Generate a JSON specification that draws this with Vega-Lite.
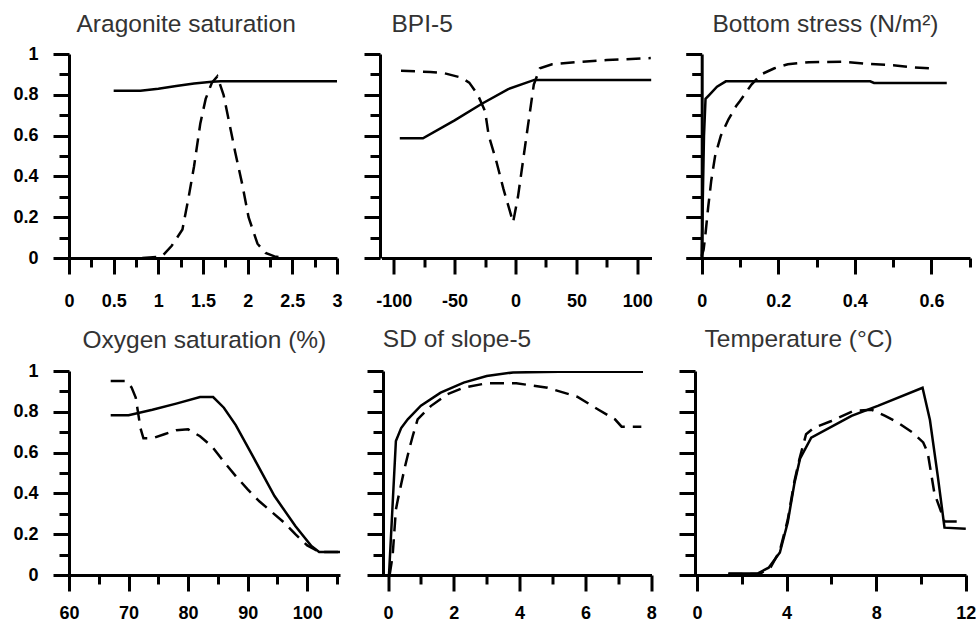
{
  "$schema": "https://vega.github.io/schema/vega-lite/v6.json",
  "padding": {"left": 12, "top": 11, "right": 0, "bottom": 0},
  "background": "white",
  "columns": 3,
  "bounds": "flush",
  "align": "all",
  "spacing": {"row": 113, "column": 36.5},
  "data": {"values": [
    {"panel":"arag","series":"solid","x":0.5,"y":0.82},{"panel":"arag","series":"solid","x":0.8,"y":0.82},{"panel":"arag","series":"solid","x":1.0,"y":0.83},{"panel":"arag","series":"solid","x":1.2,"y":0.843},{"panel":"arag","series":"solid","x":1.4,"y":0.855},{"panel":"arag","series":"solid","x":1.6,"y":0.864},{"panel":"arag","series":"solid","x":1.7,"y":0.866},{"panel":"arag","series":"solid","x":3.0,"y":0.866},
    {"panel":"arag","series":"dashed","x":0.82,"y":0},{"panel":"arag","series":"dashed","x":1.0,"y":0.005},{"panel":"arag","series":"dashed","x":1.05,"y":0.012},{"panel":"arag","series":"dashed","x":1.15,"y":0.06},{"panel":"arag","series":"dashed","x":1.27,"y":0.14},{"panel":"arag","series":"dashed","x":1.34,"y":0.3},{"panel":"arag","series":"dashed","x":1.4,"y":0.45},{"panel":"arag","series":"dashed","x":1.47,"y":0.66},{"panel":"arag","series":"dashed","x":1.53,"y":0.78},{"panel":"arag","series":"dashed","x":1.6,"y":0.86},{"panel":"arag","series":"dashed","x":1.66,"y":0.89},{"panel":"arag","series":"dashed","x":1.73,"y":0.8},{"panel":"arag","series":"dashed","x":1.8,"y":0.65},{"panel":"arag","series":"dashed","x":1.86,"y":0.52},{"panel":"arag","series":"dashed","x":1.94,"y":0.36},{"panel":"arag","series":"dashed","x":2.01,"y":0.2},{"panel":"arag","series":"dashed","x":2.11,"y":0.07},{"panel":"arag","series":"dashed","x":2.2,"y":0.025},{"panel":"arag","series":"dashed","x":2.3,"y":0.008},{"panel":"arag","series":"dashed","x":2.42,"y":0},
    {"panel":"bpi","series":"solid","x":-95,"y":0.587},{"panel":"bpi","series":"solid","x":-76,"y":0.587},{"panel":"bpi","series":"solid","x":-50,"y":0.675},{"panel":"bpi","series":"solid","x":-28,"y":0.755},{"panel":"bpi","series":"solid","x":-6,"y":0.828},{"panel":"bpi","series":"solid","x":15.4,"y":0.873},{"panel":"bpi","series":"solid","x":111.5,"y":0.873},
    {"panel":"bpi","series":"dashed","x":-94,"y":0.918},{"panel":"bpi","series":"dashed","x":-70,"y":0.912},{"panel":"bpi","series":"dashed","x":-58,"y":0.905},{"panel":"bpi","series":"dashed","x":-45,"y":0.885},{"panel":"bpi","series":"dashed","x":-38,"y":0.86},{"panel":"bpi","series":"dashed","x":-31,"y":0.8},{"panel":"bpi","series":"dashed","x":-25,"y":0.72},{"panel":"bpi","series":"dashed","x":-22,"y":0.6},{"panel":"bpi","series":"dashed","x":-16,"y":0.48},{"panel":"bpi","series":"dashed","x":-10,"y":0.34},{"panel":"bpi","series":"dashed","x":-2,"y":0.175},{"panel":"bpi","series":"dashed","x":2,"y":0.3},{"panel":"bpi","series":"dashed","x":6,"y":0.47},{"panel":"bpi","series":"dashed","x":10,"y":0.64},{"panel":"bpi","series":"dashed","x":15,"y":0.85},{"panel":"bpi","series":"dashed","x":20,"y":0.93},{"panel":"bpi","series":"dashed","x":30,"y":0.95},{"panel":"bpi","series":"dashed","x":50,"y":0.96},{"panel":"bpi","series":"dashed","x":75,"y":0.97},{"panel":"bpi","series":"dashed","x":111,"y":0.98},
    {"panel":"stress","series":"solid","x":0,"y":0},{"panel":"stress","series":"solid","x":0.003,"y":0.3},{"panel":"stress","series":"solid","x":0.006,"y":0.6},{"panel":"stress","series":"solid","x":0.01,"y":0.78},{"panel":"stress","series":"solid","x":0.02,"y":0.8},{"panel":"stress","series":"solid","x":0.04,"y":0.84},{"panel":"stress","series":"solid","x":0.063,"y":0.866},{"panel":"stress","series":"solid","x":0.44,"y":0.866},{"panel":"stress","series":"solid","x":0.45,"y":0.858},{"panel":"stress","series":"solid","x":0.64,"y":0.858},
    {"panel":"stress","series":"dashed","x":0,"y":0.01},{"panel":"stress","series":"dashed","x":0.005,"y":0.04},{"panel":"stress","series":"dashed","x":0.01,"y":0.12},{"panel":"stress","series":"dashed","x":0.017,"y":0.25},{"panel":"stress","series":"dashed","x":0.025,"y":0.38},{"panel":"stress","series":"dashed","x":0.035,"y":0.5},{"panel":"stress","series":"dashed","x":0.05,"y":0.6},{"panel":"stress","series":"dashed","x":0.07,"y":0.68},{"panel":"stress","series":"dashed","x":0.09,"y":0.745},{"panel":"stress","series":"dashed","x":0.1,"y":0.77},{"panel":"stress","series":"dashed","x":0.13,"y":0.85},{"panel":"stress","series":"dashed","x":0.155,"y":0.9},{"panel":"stress","series":"dashed","x":0.19,"y":0.93},{"panel":"stress","series":"dashed","x":0.225,"y":0.95},{"panel":"stress","series":"dashed","x":0.28,"y":0.96},{"panel":"stress","series":"dashed","x":0.37,"y":0.962},{"panel":"stress","series":"dashed","x":0.43,"y":0.952},{"panel":"stress","series":"dashed","x":0.5,"y":0.945},{"panel":"stress","series":"dashed","x":0.55,"y":0.935},{"panel":"stress","series":"dashed","x":0.61,"y":0.928},
    {"panel":"oxy","series":"solid","x":67,"y":0.783},{"panel":"oxy","series":"solid","x":70,"y":0.783},{"panel":"oxy","series":"solid","x":74,"y":0.81},{"panel":"oxy","series":"solid","x":78,"y":0.84},{"panel":"oxy","series":"solid","x":82,"y":0.872},{"panel":"oxy","series":"solid","x":84.2,"y":0.872},{"panel":"oxy","series":"solid","x":86,"y":0.82},{"panel":"oxy","series":"solid","x":88,"y":0.735},{"panel":"oxy","series":"solid","x":91,"y":0.575},{"panel":"oxy","series":"solid","x":94.5,"y":0.387},{"panel":"oxy","series":"solid","x":98,"y":0.24},{"panel":"oxy","series":"solid","x":100.7,"y":0.142},{"panel":"oxy","series":"solid","x":102,"y":0.113},{"panel":"oxy","series":"solid","x":105.5,"y":0.113},
    {"panel":"oxy","series":"dashed","x":67,"y":0.951},{"panel":"oxy","series":"dashed","x":69.5,"y":0.951},{"panel":"oxy","series":"dashed","x":70.5,"y":0.92},{"panel":"oxy","series":"dashed","x":71.2,"y":0.87},{"panel":"oxy","series":"dashed","x":72,"y":0.72},{"panel":"oxy","series":"dashed","x":72.5,"y":0.67},{"panel":"oxy","series":"dashed","x":74,"y":0.67},{"panel":"oxy","series":"dashed","x":76,"y":0.69},{"panel":"oxy","series":"dashed","x":78,"y":0.71},{"panel":"oxy","series":"dashed","x":80,"y":0.714},{"panel":"oxy","series":"dashed","x":82,"y":0.68},{"panel":"oxy","series":"dashed","x":84,"y":0.63},{"panel":"oxy","series":"dashed","x":86,"y":0.555},{"panel":"oxy","series":"dashed","x":88,"y":0.485},{"panel":"oxy","series":"dashed","x":90,"y":0.42},{"panel":"oxy","series":"dashed","x":92,"y":0.36},{"panel":"oxy","series":"dashed","x":94,"y":0.31},{"panel":"oxy","series":"dashed","x":96,"y":0.26},{"panel":"oxy","series":"dashed","x":98,"y":0.2},{"panel":"oxy","series":"dashed","x":100,"y":0.145},{"panel":"oxy","series":"dashed","x":102,"y":0.113},{"panel":"oxy","series":"dashed","x":105.5,"y":0.113},
    {"panel":"sd","series":"solid","x":0.03,"y":0},{"panel":"sd","series":"solid","x":0.24,"y":0.657},{"panel":"sd","series":"solid","x":0.4,"y":0.72},{"panel":"sd","series":"solid","x":0.6,"y":0.763},{"panel":"sd","series":"solid","x":1.0,"y":0.83},{"panel":"sd","series":"solid","x":1.6,"y":0.894},{"panel":"sd","series":"solid","x":2.3,"y":0.943},{"panel":"sd","series":"solid","x":3.0,"y":0.975},{"panel":"sd","series":"solid","x":3.8,"y":0.993},{"panel":"sd","series":"solid","x":5.2,"y":0.996},{"panel":"sd","series":"solid","x":7.75,"y":0.996},
    {"panel":"sd","series":"dashed","x":0.05,"y":0},{"panel":"sd","series":"dashed","x":0.14,"y":0.093},{"panel":"sd","series":"dashed","x":0.24,"y":0.32},{"panel":"sd","series":"dashed","x":0.3,"y":0.37},{"panel":"sd","series":"dashed","x":0.5,"y":0.52},{"panel":"sd","series":"dashed","x":0.65,"y":0.62},{"panel":"sd","series":"dashed","x":0.75,"y":0.68},{"panel":"sd","series":"dashed","x":0.9,"y":0.763},{"panel":"sd","series":"dashed","x":1.3,"y":0.828},{"panel":"sd","series":"dashed","x":1.8,"y":0.886},{"panel":"sd","series":"dashed","x":2.3,"y":0.918},{"panel":"sd","series":"dashed","x":3.0,"y":0.94},{"panel":"sd","series":"dashed","x":3.9,"y":0.94},{"panel":"sd","series":"dashed","x":4.85,"y":0.918},{"panel":"sd","series":"dashed","x":5.75,"y":0.874},{"panel":"sd","series":"dashed","x":6.4,"y":0.81},{"panel":"sd","series":"dashed","x":6.9,"y":0.763},{"panel":"sd","series":"dashed","x":7.1,"y":0.727},{"panel":"sd","series":"dashed","x":7.7,"y":0.727},
    {"panel":"temp","series":"solid","x":1.4,"y":0.007},{"panel":"temp","series":"solid","x":2.7,"y":0.007},{"panel":"temp","series":"solid","x":3.2,"y":0.036},{"panel":"temp","series":"solid","x":3.7,"y":0.11},{"panel":"temp","series":"solid","x":4.05,"y":0.257},{"panel":"temp","series":"solid","x":4.35,"y":0.45},{"panel":"temp","series":"solid","x":4.6,"y":0.57},{"panel":"temp","series":"solid","x":5.1,"y":0.673},{"panel":"temp","series":"solid","x":6.9,"y":0.78},{"panel":"temp","series":"solid","x":8.1,"y":0.83},{"panel":"temp","series":"solid","x":10.07,"y":0.918},{"panel":"temp","series":"solid","x":10.4,"y":0.76},{"panel":"temp","series":"solid","x":10.75,"y":0.485},{"panel":"temp","series":"solid","x":11.05,"y":0.232},{"panel":"temp","series":"solid","x":12,"y":0.227},
    {"panel":"temp","series":"dashed","x":1.4,"y":0.005},{"panel":"temp","series":"dashed","x":2.8,"y":0.005},{"panel":"temp","series":"dashed","x":3.3,"y":0.04},{"panel":"temp","series":"dashed","x":3.7,"y":0.12},{"panel":"temp","series":"dashed","x":4.05,"y":0.27},{"panel":"temp","series":"dashed","x":4.35,"y":0.46},{"panel":"temp","series":"dashed","x":4.6,"y":0.58},{"panel":"temp","series":"dashed","x":4.87,"y":0.69},{"panel":"temp","series":"dashed","x":5.2,"y":0.72},{"panel":"temp","series":"dashed","x":6.0,"y":0.755},{"panel":"temp","series":"dashed","x":7.0,"y":0.805},{"panel":"temp","series":"dashed","x":7.8,"y":0.81},{"panel":"temp","series":"dashed","x":8.4,"y":0.78},{"panel":"temp","series":"dashed","x":9.0,"y":0.745},{"panel":"temp","series":"dashed","x":9.6,"y":0.7},{"panel":"temp","series":"dashed","x":10.1,"y":0.65},{"panel":"temp","series":"dashed","x":10.3,"y":0.6},{"panel":"temp","series":"dashed","x":10.6,"y":0.4},{"panel":"temp","series":"dashed","x":10.9,"y":0.31},{"panel":"temp","series":"dashed","x":11.05,"y":0.262},{"panel":"temp","series":"dashed","x":11.8,"y":0.262}
  ]},
  "concat": [
    {
      "width": 268, "height": 204,
      "title": {"text": "Aragonite saturation", "dx": 7.5, "offset": 8},
      "transform": [{"filter": "datum.panel == 'arag'"}],
      "resolve": {"axis": {"x": "independent", "y": "independent"}},
      "layer": [
        {"transform": [{"filter": "datum.series == 'solid'"}],
         "mark": {"type": "line", "color": "black", "strokeWidth": 2.5, "clip": true},
         "encoding": {
           "x": {"field": "x", "type": "quantitative", "scale": {"domain": [0, 3], "nice": false, "zero": false},
             "axis": {"orient": "bottom", "values": [0,0.5,1,1.5,2,2.5,3], "labelExpr": "'' + datum.value", "tickSize": 16}},
           "y": {"field": "y", "type": "quantitative", "scale": {"domain": [0, 1], "nice": false},
             "axis": {"orient": "left", "values": [0,0.2,0.4,0.6,0.8,1], "labelExpr": "'' + datum.value", "tickSize": 16, "labelPadding": 15}}}},
        {"transform": [{"filter": "datum.series == 'dashed'"}],
         "mark": {"type": "line", "color": "black", "strokeWidth": 2.5, "strokeDash": [14, 8], "clip": true},
         "encoding": {
           "x": {"field": "x", "type": "quantitative", "scale": {"domain": [0, 3], "nice": false, "zero": false},
             "axis": {"orient": "bottom", "values": [0.25,0.75,1.25,1.75,2.25,2.75], "labels": false, "domain": false, "tickSize": 9}},
           "y": {"field": "y", "type": "quantitative", "scale": {"domain": [0, 1], "nice": false},
             "axis": {"orient": "left", "values": [0.1,0.3,0.5,0.7,0.9], "labels": false, "domain": false, "tickSize": 10}}}}
      ]
    },
    {
      "width": 270, "height": 204,
      "title": {"text": "BPI-5", "dx": 10, "offset": 15.5},
      "transform": [{"filter": "datum.panel == 'bpi'"}],
      "resolve": {"axis": {"x": "independent", "y": "independent"}},
      "layer": [
        {"transform": [{"filter": "datum.series == 'solid'"}],
         "mark": {"type": "line", "color": "black", "strokeWidth": 2.5, "clip": true},
         "encoding": {
           "x": {"field": "x", "type": "quantitative", "scale": {"domain": [-110.01, 111.6], "nice": false, "zero": false},
             "axis": {"orient": "bottom", "values": [-100,-50,0,50,100], "labelExpr": "'' + datum.value", "tickSize": 16}},
           "y": {"field": "y", "type": "quantitative", "scale": {"domain": [0, 1], "nice": false},
             "axis": {"orient": "left", "values": [0,0.2,0.4,0.6,0.8,1], "labels": false, "tickSize": 16, "offset": 1.5}}}},
        {"transform": [{"filter": "datum.series == 'dashed'"}],
         "mark": {"type": "line", "color": "black", "strokeWidth": 2.5, "strokeDash": [14, 8], "clip": true},
         "encoding": {
           "x": {"field": "x", "type": "quantitative", "scale": {"domain": [-110.01, 111.6], "nice": false, "zero": false},
             "axis": {"orient": "bottom", "values": [-75,-25,25,75], "labels": false, "domain": false, "tickSize": 9}},
           "y": {"field": "y", "type": "quantitative", "scale": {"domain": [0, 1], "nice": false},
             "axis": {"orient": "left", "values": [0.1,0.3,0.5,0.7,0.9], "labels": false, "domain": false, "tickSize": 10, "offset": 1.5}}}}
      ]
    },
    {
      "width": 276, "height": 204,
      "title": {"text": "Bottom stress (N/m²)", "dx": 18.5, "offset": 15.5},
      "transform": [{"filter": "datum.panel == 'stress'"}],
      "resolve": {"axis": {"x": "independent", "y": "independent"}},
      "layer": [
        {"transform": [{"filter": "datum.series == 'solid'"}],
         "mark": {"type": "line", "color": "black", "strokeWidth": 2.5, "clip": true},
         "encoding": {
           "x": {"field": "x", "type": "quantitative", "scale": {"domain": [-0.0201, 0.7007], "nice": false, "zero": false},
             "axis": {"orient": "bottom", "values": [0,0.2,0.4,0.6], "labelExpr": "'' + datum.value", "tickSize": 16}},
           "y": {"field": "y", "type": "quantitative", "scale": {"domain": [0, 1], "nice": false},
             "axis": {"orient": "left", "values": [0,0.2,0.4,0.6,0.8,1], "labels": false, "tickSize": 16, "offset": -7.7}}}},
        {"transform": [{"filter": "datum.series == 'dashed'"}],
         "mark": {"type": "line", "color": "black", "strokeWidth": 2.5, "strokeDash": [14, 8], "clip": true},
         "encoding": {
           "x": {"field": "x", "type": "quantitative", "scale": {"domain": [-0.0201, 0.7007], "nice": false, "zero": false},
             "axis": {"orient": "bottom", "values": [0.1,0.3,0.5,0.7], "labels": false, "domain": false, "tickSize": 9}},
           "y": {"field": "y", "type": "quantitative", "scale": {"domain": [0, 1], "nice": false},
             "axis": {"orient": "left", "values": [0.1,0.3,0.5,0.7,0.9], "labels": false, "domain": false, "tickSize": 10, "offset": -7.7}}}}
      ]
    },
    {
      "width": 271, "height": 204,
      "title": {"text": "Oxygen saturation (%)", "dx": 13.5, "offset": 9},
      "transform": [{"filter": "datum.panel == 'oxy'"}],
      "resolve": {"axis": {"x": "independent", "y": "independent"}},
      "layer": [
        {"transform": [{"filter": "datum.series == 'solid'"}],
         "mark": {"type": "line", "color": "black", "strokeWidth": 2.5, "clip": true},
         "encoding": {
           "x": {"field": "x", "type": "quantitative", "scale": {"domain": [60, 105.5], "nice": false, "zero": false},
             "axis": {"orient": "bottom", "values": [60,70,80,90,100], "labelExpr": "'' + datum.value", "tickSize": 16, "labelPadding": 13}},
           "y": {"field": "y", "type": "quantitative", "scale": {"domain": [0, 1], "nice": false},
             "axis": {"orient": "left", "values": [0,0.2,0.4,0.6,0.8,1], "labelExpr": "'' + datum.value", "tickSize": 16, "labelPadding": 15}}}},
        {"transform": [{"filter": "datum.series == 'dashed'"}],
         "mark": {"type": "line", "color": "black", "strokeWidth": 2.5, "strokeDash": [14, 8], "clip": true},
         "encoding": {
           "x": {"field": "x", "type": "quantitative", "scale": {"domain": [60, 105.5], "nice": false, "zero": false},
             "axis": {"orient": "bottom", "values": [65,75,85,95,105], "labels": false, "domain": false, "tickSize": 9}},
           "y": {"field": "y", "type": "quantitative", "scale": {"domain": [0, 1], "nice": false},
             "axis": {"orient": "left", "values": [0.1,0.3,0.5,0.7,0.9], "labels": false, "domain": false, "tickSize": 10}}}}
      ]
    },
    {
      "width": 270, "height": 204,
      "title": {"text": "SD of slope-5", "dx": 1.3, "offset": 17},
      "transform": [{"filter": "datum.panel == 'sd'"}],
      "resolve": {"axis": {"x": "independent", "y": "independent"}},
      "layer": [
        {"transform": [{"filter": "datum.series == 'solid'"}],
         "mark": {"type": "line", "color": "black", "strokeWidth": 2.5, "clip": true},
         "encoding": {
           "x": {"field": "x", "type": "quantitative", "scale": {"domain": [-0.1976, 8.009], "nice": false, "zero": false},
             "axis": {"orient": "bottom", "values": [0,2,4,6,8], "labelExpr": "'' + datum.value", "tickSize": 16, "labelPadding": 13}},
           "y": {"field": "y", "type": "quantitative", "scale": {"domain": [0, 1], "nice": false},
             "axis": {"orient": "left", "values": [0,0.2,0.4,0.6,0.8,1], "labels": false, "tickSize": 16, "offset": -1.5}}}},
        {"transform": [{"filter": "datum.series == 'dashed'"}],
         "mark": {"type": "line", "color": "black", "strokeWidth": 2.5, "strokeDash": [14, 8], "clip": true},
         "encoding": {
           "x": {"field": "x", "type": "quantitative", "scale": {"domain": [-0.1976, 8.009], "nice": false, "zero": false},
             "axis": {"orient": "bottom", "values": [1,3,5,7], "labels": false, "domain": false, "tickSize": 9}},
           "y": {"field": "y", "type": "quantitative", "scale": {"domain": [0, 1], "nice": false},
             "axis": {"orient": "left", "values": [0.1,0.3,0.5,0.7,0.9], "labels": false, "domain": false, "tickSize": 10, "offset": -1.5}}}}
      ]
    },
    {
      "width": 272, "height": 204,
      "title": {"text": "Temperature (°C)", "dx": 10.5, "offset": 17},
      "transform": [{"filter": "datum.panel == 'temp'"}],
      "resolve": {"axis": {"x": "independent", "y": "independent"}},
      "layer": [
        {"transform": [{"filter": "datum.series == 'solid'"}],
         "mark": {"type": "line", "color": "black", "strokeWidth": 2.5, "clip": true},
         "encoding": {
           "x": {"field": "x", "type": "quantitative", "scale": {"domain": [-0.1338, 12.01], "nice": false, "zero": false},
             "axis": {"orient": "bottom", "values": [0,4,8,12], "labelExpr": "'' + datum.value", "tickSize": 16, "labelPadding": 13}},
           "y": {"field": "y", "type": "quantitative", "scale": {"domain": [0, 1], "nice": false},
             "axis": {"orient": "left", "values": [0,0.2,0.4,0.6,0.8,1], "labels": false, "tickSize": 16, "offset": -1}}}},
        {"transform": [{"filter": "datum.series == 'dashed'"}],
         "mark": {"type": "line", "color": "black", "strokeWidth": 2.5, "strokeDash": [14, 8], "clip": true},
         "encoding": {
           "x": {"field": "x", "type": "quantitative", "scale": {"domain": [-0.1338, 12.01], "nice": false, "zero": false},
             "axis": {"orient": "bottom", "values": [2,6,10], "labels": false, "domain": false, "tickSize": 9}},
           "y": {"field": "y", "type": "quantitative", "scale": {"domain": [0, 1], "nice": false},
             "axis": {"orient": "left", "values": [0.1,0.3,0.5,0.7,0.9], "labels": false, "domain": false, "tickSize": 10, "offset": -1}}}}
      ]
    }
  ],
  "config": {
    "view": {"stroke": null},
    "axis": {"grid": false, "title": null, "domainColor": "black", "domainWidth": 3, "tickColor": "black", "tickWidth": 3,
      "labelFont": "Liberation Sans", "labelFontSize": 18, "labelFontWeight": "bold", "labelColor": "black",
      "labelOverlap": false, "labelFlush": false, "labelBound": false},
    "axisX": {"labelPadding": 18},
    "title": {"font": "Liberation Sans", "fontSize": 24.5, "fontWeight": "normal", "color": "#333333", "anchor": "start", "frame": "group", "baseline": "alphabetic"}
  }
}
